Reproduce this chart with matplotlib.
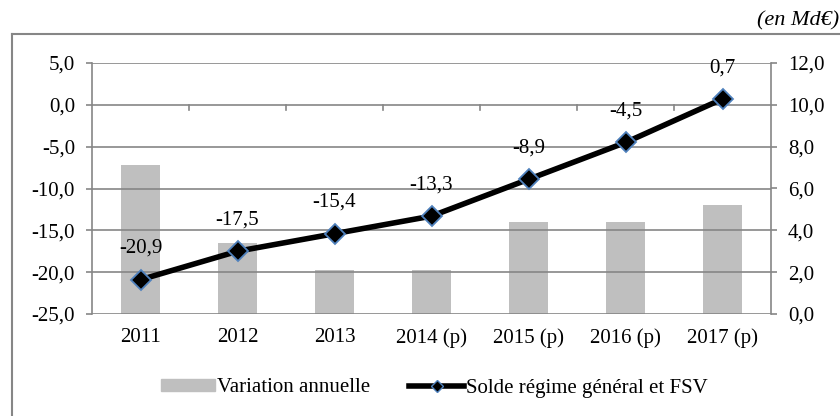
import matplotlib.pyplot as plt
from matplotlib.lines import Line2D
from matplotlib.ticker import FuncFormatter
import numpy as np

# Data
years = ["2011", "2012", "2013", "2014 (p)", "2015 (p)", "2016 (p)", "2017 (p)"]
solde = [-20.9, -17.5, -15.4, -13.3, -8.9, -4.5, 0.7]
variation = [7.1, 3.4, 2.1, 2.1, 4.4, 4.4, 5.2]

plt.rcParams['font.family'] = ['Liberation Serif', 'DejaVu Serif']
grey = '#868686'
fs = 15

fig = plt.figure(figsize=(8.4, 4.16), dpi=100)
W, H = 840, 416
ax = fig.add_axes([92 / W, 1 - 314 / H, (771 - 92) / W, (314 - 63) / H])
ax2 = ax.twinx()

x = np.arange(len(years))

# bars on the right axis
ax2.bar(x, variation, width=0.4, color='#bfbfbf', zorder=1)
ax2.set_ylim(0, 12)
ax2.set_yticks(np.arange(0, 12.1, 2))

# line on the left axis, drawn above the bars
ax.set_zorder(ax2.get_zorder() + 1)
ax.patch.set_visible(False)
ax.plot(x, solde, color='black', lw=4, marker='D', ms=10,
        mfc='black', mec='#4f81bd', mew=1.3, zorder=5)
for xi, v in zip(x, solde):
    ax.annotate(f"{v:.1f}".replace('.', ','), (xi, v), xytext=(0, 22.5),
                textcoords='offset points', ha='center', va='center', fontsize=fs)

ax.set_ylim(-25, 5)
ax.set_yticks(np.arange(-25, 5.1, 5))
ax.set_xlim(-0.5, len(years) - 0.5)

fmt = FuncFormatter(lambda v, p: f"{v:.1f}".replace('.', ','))
ax.yaxis.set_major_formatter(fmt)
ax2.yaxis.set_major_formatter(fmt)

# gridlines
for v in np.arange(-25, 5.1, 5):
    ax.axhline(v, color=grey, lw=1.2, zorder=0)

# category axis at zero with tick marks between categories
ax.set_xticks(x)
ax.set_xticklabels(years)
ax.tick_params(axis='x', length=0, labelsize=fs, pad=10)
for b in np.arange(0.5, len(years) - 1, 1):
    ax.plot([b, b], [0, -0.6], color=grey, lw=1.2, clip_on=False)

for a in (ax, ax2):
    for s in a.spines.values():
        s.set_visible(False)
ax.spines['left'].set_visible(True)
ax.spines['left'].set_color(grey)
ax.spines['left'].set_linewidth(1.2)
ax2.spines['right'].set_visible(True)
ax2.spines['right'].set_color(grey)
ax2.spines['right'].set_linewidth(1.2)
ax.tick_params(axis='y', length=4.3, color=grey, width=1.2, labelsize=fs, pad=8)
ax2.tick_params(axis='y', length=4.3, color=grey, width=1.2, labelsize=fs, pad=8)

# legend
handles = [
    plt.Rectangle((0, 0), 1, 1, color='#bfbfbf'),
    Line2D([0], [0], color='black', lw=4, marker='D', ms=6,
           mfc='black', mec='#4f81bd', mew=1.0),
]
fig.legend(handles, ["Variation annuelle", "Solde régime général et FSV"],
           loc='center', bbox_to_anchor=(434 / W, 1 - 388 / H), ncol=2,
           frameon=False, fontsize=fs, handlelength=2.6, handleheight=0.55,
           columnspacing=1.9, handletextpad=0.1)

# outer chart frame (clipped at the right and bottom)
fig.add_artist(Line2D([12 / W, 1], [1 - 34 / H, 1 - 34 / H], color=grey, lw=1.5))
fig.add_artist(Line2D([12 / W, 12 / W], [0, 1 - 34 / H], color=grey, lw=1.5))

fig.text(757 / W, 1 - 21 / H, "(en Md€)", ha='left', va='center',
         fontsize=16, style='italic')

fig.savefig('out.png', dpi=100)
